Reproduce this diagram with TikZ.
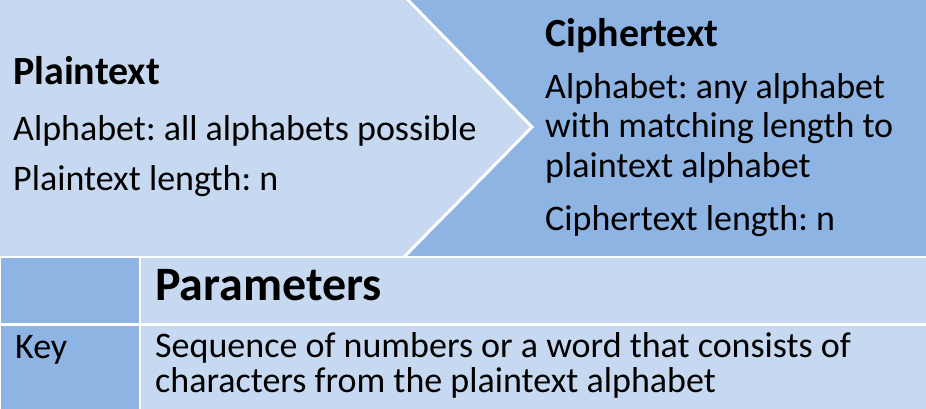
\documentclass[tikz,border=0pt]{standalone}
\usepackage{fontspec}
\setmainfont{Carlito}
\definecolor{lightblue}{HTML}{C6D9F1}
\definecolor{darkblue}{HTML}{8EB4E3}
\begin{document}
\frenchspacing
\begin{tikzpicture}[x=1pt,y=-1pt,
  txt/.style={anchor=base west, inner sep=0pt, font=\fontsize{36}{39}\selectfont},
  hd/.style={anchor=base west, inner sep=0pt, font=\fontsize{40}{44}\selectfont\bfseries},
  cell/.style={anchor=base west, inner sep=0pt, font=\fontsize{36}{35}\selectfont},
  bighd/.style={anchor=base west, inner sep=0pt, font=\fontsize{48}{52}\selectfont\bfseries}]
\useasboundingbox (0,0) rectangle (926,409);
% top section
\fill[darkblue] (0,0) rectangle (926,256);
\fill[lightblue] (0,0) -- (405,0) -- (532,127) -- (404,256) -- (0,256) -- cycle;
\draw[white, line width=3pt] (405,-3) -- (532,127) -- (402,259);
\fill[white] (0,256) rectangle (926,258);
% table
\fill[darkblue] (1,258) rectangle (139,323);
\fill[lightblue] (141,258) rectangle (926,323);
\fill[darkblue] (1,326) rectangle (139,409);
\fill[lightblue] (141,326) rectangle (926,409);
% texts
\node[hd] (pt) at (13,85) {Plaintext};
\node[txt] (pa) at (13,140) {Alphabet: all alphabets possible};
\node[txt] (pl) at (13,190) {Plaintext length: n};
\node[hd] (ct) at (545,47) {Ciphertext};
\node[txt] (ca1) at (545,99) {Alphabet: any alphabet};
\node[txt] (ca2) at (545,138) {with matching length to};
\node[txt] (ca3) at (545,177) {plaintext alphabet};
\node[txt] (cl) at (545,230) {Ciphertext length: n};
\node[bighd] (par) at (155,300) {Parameters};
\node[cell] (key) at (15,358) {Key};
\node[cell] (s1) at (155,357) {Sequence of numbers or a word that consists of};
\node[cell] (s2) at (155,392) {characters from the plaintext alphabet};
\end{tikzpicture}
\end{document}
